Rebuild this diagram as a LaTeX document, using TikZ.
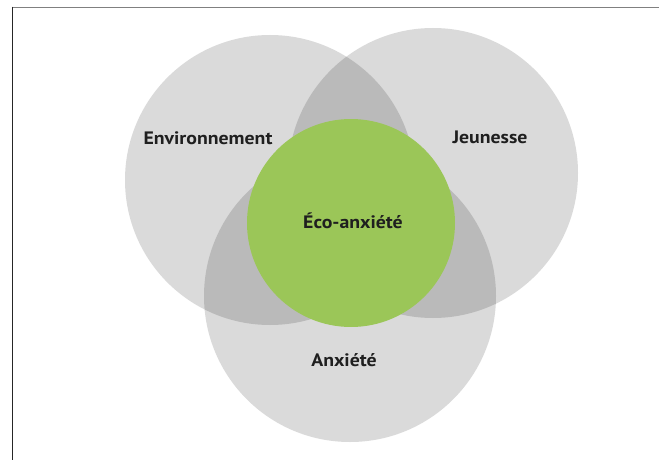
\documentclass[tikz,border=0pt]{standalone}
\usepackage{fontspec}
\setmainfont{PT Sans}[FakeStretch=1.1]
\definecolor{ecogreen}{RGB}{155,198,88}
\begin{document}
\begin{tikzpicture}[x=1pt, y=-1pt, every node/.style={font=\bfseries\fontsize{18}{21}\selectfont, text=black!88}]
  \useasboundingbox (0,0) rectangle (659,460);
  % Frame (top and left rules only)
  \draw[black!50, line width=1.8pt] (12,7.5) -- (659,7.5);
  \draw[black!85, line width=1.3pt] (12.5,6.6) -- (12.5,460);

  % The three sets, darker where two of them overlap
  \begin{scope}[fill=black, fill opacity=0.145]
    \fill (270,180) circle (145pt); % Environnement
    \fill (433,173) circle (145pt); % Jeunesse
    \fill (350,296) circle (146pt); % Anxiete
  \end{scope}

  % Common part on top
  \fill[ecogreen] (351,223) circle (104pt);

  % Labels
  \node (env) at (208,138) {Environnement};
  \node (jeun) at (490,137) {Jeunesse};
  \node (eco) at (353,221) {Éco-anxiété};
  \node (anx) at (344,360) {Anxiété};
\end{tikzpicture}
\end{document}
